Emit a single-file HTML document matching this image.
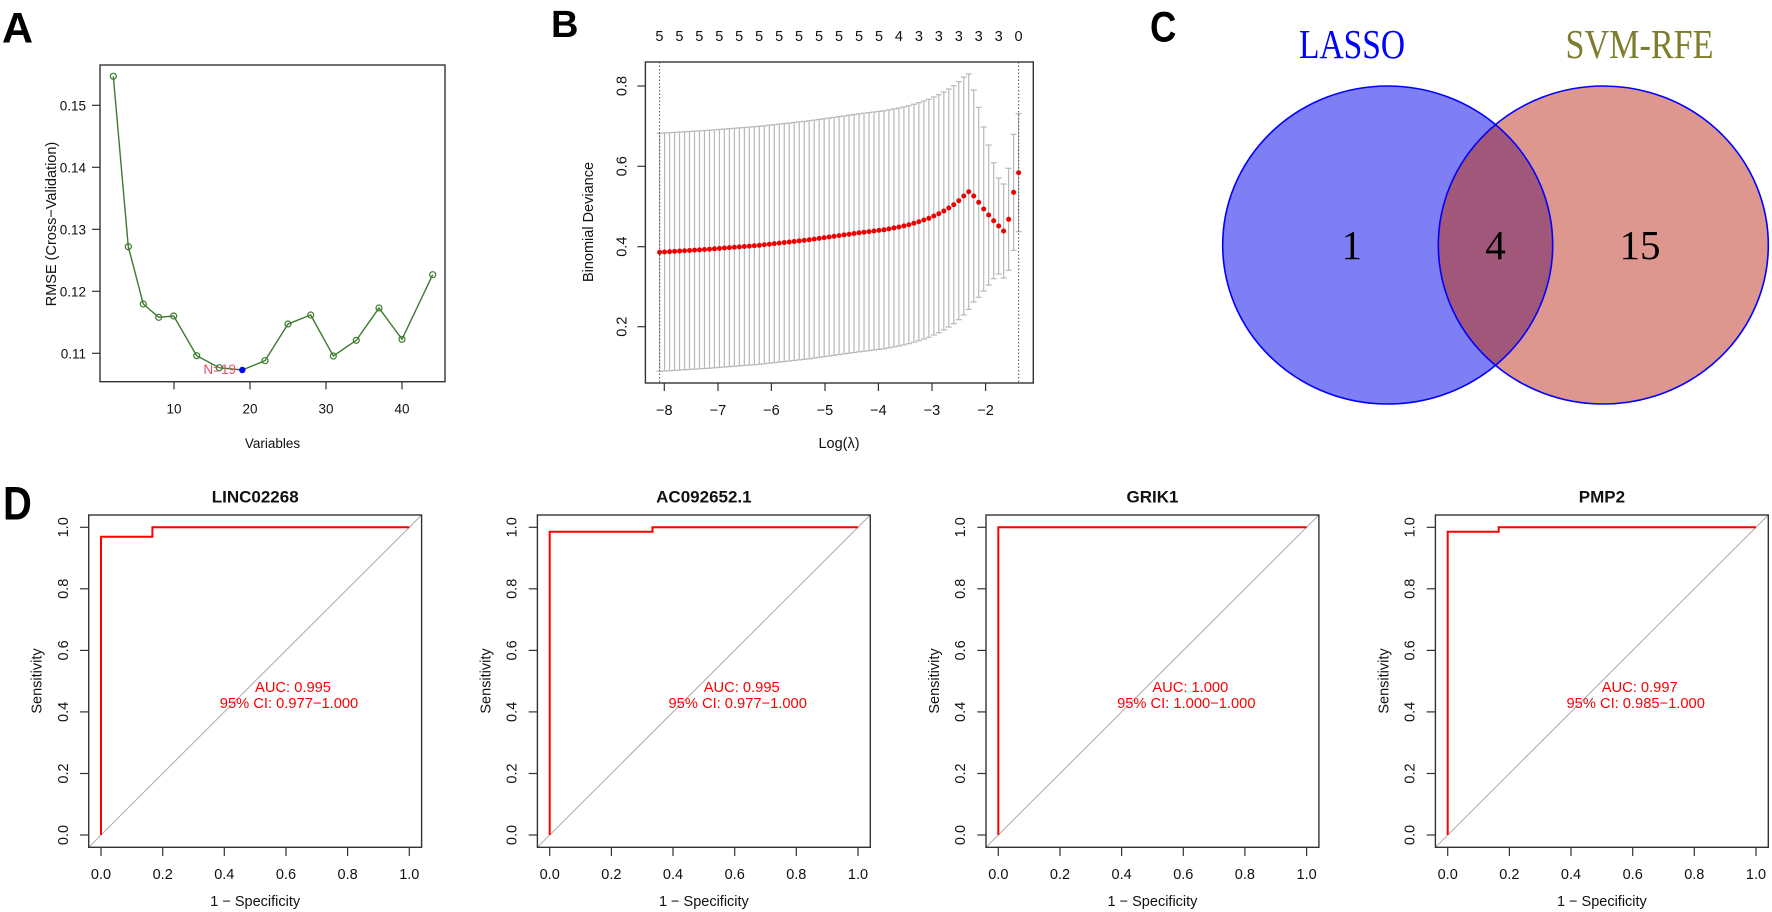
<!DOCTYPE html>
<html><head><meta charset="utf-8">
<style>
html,body{margin:0;padding:0;background:#fff;}
svg{display:block;}
text{font-family:"Liberation Sans",Arial,sans-serif;fill:#111;}
.t{font-size:14.5px;}
.ta{font-size:13.5px;}
.lab{font-size:14.5px;}
.ttl{font-size:17px;font-weight:bold;}
.let{font-weight:bold;font-size:43px;fill:#000;}
.auc{font-size:14.7px;fill:#f00;}
.ven text{font-family:"Liberation Serif","Noto Serif CJK SC",serif;}
</style></head>
<body>
<svg id="s" width="1772" height="912" viewBox="0 0 1772 912" xmlns="http://www.w3.org/2000/svg">
<rect width="1772" height="912" fill="#fff"/>

<!-- Panel letters -->
<text class="let" x="2" y="42.5">A</text>
<text class="let" x="551" y="36.8" style="font-size:38px">B</text>
<text class="let" x="1150" y="41.5" transform="translate(1150,0) scale(0.85,1) translate(-1150,0)">C</text>
<text class="let" x="3" y="519.5" style="font-size:47px" transform="translate(3,0) scale(0.85,1) translate(-3,0)">D</text>

<!-- ================= PANEL A ================= -->
<g>
<rect x="100" y="65" width="345" height="316.7" fill="none" stroke="#333" stroke-width="1.4"/>
<g stroke="#333" stroke-width="1.2">
<line x1="100" y1="105.3" x2="92" y2="105.3"/>
<line x1="100" y1="167.3" x2="92" y2="167.3"/>
<line x1="100" y1="229.3" x2="92" y2="229.3"/>
<line x1="100" y1="291.3" x2="92" y2="291.3"/>
<line x1="100" y1="353.3" x2="92" y2="353.3"/>
<line x1="174" y1="381.7" x2="174" y2="389.5"/>
<line x1="250" y1="381.7" x2="250" y2="389.5"/>
<line x1="326" y1="381.7" x2="326" y2="389.5"/>
<line x1="402" y1="381.7" x2="402" y2="389.5"/>
</g>
<g class="ta" text-anchor="end">
<text x="86" y="110.3">0.15</text>
<text x="86" y="172.3">0.14</text>
<text x="86" y="234.3">0.13</text>
<text x="86" y="296.3">0.12</text>
<text x="86" y="358.3">0.11</text>
</g>
<g class="ta" text-anchor="middle">
<text x="174" y="413.5">10</text>
<text x="250" y="413.5">20</text>
<text x="326" y="413.5">30</text>
<text x="402" y="413.5">40</text>
<text x="272.5" y="448">Variables</text>
</g>
<text class="lab" text-anchor="middle" dy=".35em" transform="translate(51,224) rotate(-90)">RMSE (Cross−Validation)</text>
<polyline fill="none" stroke="#3d7a2e" stroke-width="1.4" points="113.3,76.3 128.3,246.7 143.3,304 158.7,317.3 173.7,316 196.7,355.7 219.3,367.7 242.3,370 265,360.7 288,324 310.7,315 333.3,356 356.3,340.3 379,308 402,339.3 432.7,274.7"/>
<g fill="none" stroke="#3d7a2e" stroke-width="1.2">
<circle cx="113.3" cy="76.3" r="3"/><circle cx="128.3" cy="246.7" r="3"/><circle cx="143.3" cy="304" r="3"/>
<circle cx="158.7" cy="317.3" r="3"/><circle cx="173.7" cy="316" r="3"/><circle cx="196.7" cy="355.7" r="3"/>
<circle cx="219.3" cy="367.7" r="3"/><circle cx="265" cy="360.7" r="3"/>
<circle cx="288" cy="324" r="3"/><circle cx="310.7" cy="315" r="3"/><circle cx="333.3" cy="356" r="3"/>
<circle cx="356.3" cy="340.3" r="3"/><circle cx="379" cy="308" r="3"/><circle cx="402" cy="339.3" r="3"/>
<circle cx="432.7" cy="274.7" r="3"/>
</g>
<text class="ta" x="236" y="374" text-anchor="end" style="fill:#DF536B">N=19</text>
<circle cx="242.3" cy="370" r="3.2" fill="#0000ff"/>
</g>

<!-- ================= PANEL B ================= -->
<g>
<g class="t" text-anchor="middle">
<text x="659.4" y="41">5</text><text x="679.4" y="41">5</text><text x="699.3" y="41">5</text>
<text x="719.3" y="41">5</text><text x="739.2" y="41">5</text><text x="759.2" y="41">5</text>
<text x="779.2" y="41">5</text><text x="799.1" y="41">5</text><text x="819.1" y="41">5</text>
<text x="839.0" y="41">5</text><text x="859.0" y="41">5</text><text x="879.0" y="41">5</text>
<text x="898.9" y="41">4</text><text x="918.9" y="41">3</text><text x="938.8" y="41">3</text>
<text x="958.8" y="41">3</text><text x="978.7" y="41">3</text><text x="998.7" y="41">3</text>
<text x="1018.6" y="41">0</text>
</g>
<g id="bdata"></g>
<g stroke="#555" stroke-width="1" stroke-dasharray="1.5 2">
<line x1="659.6" y1="62" x2="659.6" y2="383"/>
<line x1="1018.6" y1="62" x2="1018.6" y2="383"/>
</g>
<rect x="645.4" y="62" width="387.9" height="321" fill="none" stroke="#333" stroke-width="1.4"/>
<g stroke="#333" stroke-width="1.2">
<line x1="645.4" y1="86" x2="637.4" y2="86"/>
<line x1="645.4" y1="166.3" x2="637.4" y2="166.3"/>
<line x1="645.4" y1="246.7" x2="637.4" y2="246.7"/>
<line x1="645.4" y1="326.7" x2="637.4" y2="326.7"/>
<line x1="664.3" y1="383" x2="664.3" y2="391"/>
<line x1="718" y1="383" x2="718" y2="391"/>
<line x1="771.4" y1="383" x2="771.4" y2="391"/>
<line x1="825" y1="383" x2="825" y2="391"/>
<line x1="878.4" y1="383" x2="878.4" y2="391"/>
<line x1="932" y1="383" x2="932" y2="391"/>
<line x1="985.6" y1="383" x2="985.6" y2="391"/>
</g>
<g class="t" text-anchor="middle">
<text dy=".35em" transform="translate(621.5,86) rotate(-90)">0.8</text>
<text dy=".35em" transform="translate(621.5,166.3) rotate(-90)">0.6</text>
<text dy=".35em" transform="translate(621.5,246.7) rotate(-90)">0.4</text>
<text dy=".35em" transform="translate(621.5,326.7) rotate(-90)">0.2</text>
<text x="664.3" y="415">−8</text>
<text x="718" y="415">−7</text>
<text x="771.4" y="415">−6</text>
<text x="825" y="415">−5</text>
<text x="878.4" y="415">−4</text>
<text x="932" y="415">−3</text>
<text x="985.6" y="415">−2</text>
<text x="839" y="448">Log(λ)</text>
<text dy=".35em" transform="translate(588,222) rotate(-90)">Binomial Deviance</text>
</g>
</g>

<!-- ================= PANEL C ================= -->
<defs>
<clipPath id="clipL"><ellipse cx="1387.7" cy="245" rx="165" ry="159"/></clipPath>
</defs>
<g class="ven">
<text x="1352" y="58" text-anchor="middle" font-size="41" textLength="106" lengthAdjust="spacingAndGlyphs" style="fill:#0000ff">LASSO</text>
<text x="1639.5" y="58" text-anchor="middle" font-size="41" textLength="148" lengthAdjust="spacingAndGlyphs" style="fill:#7d7d2d">SVM-RFE</text>
<ellipse cx="1387.7" cy="245" rx="165" ry="159" fill="#7f7ff5"/>
<ellipse cx="1603.3" cy="245" rx="165" ry="159" fill="#de978f"/>
<ellipse cx="1603.3" cy="245" rx="165" ry="159" fill="#a15779" clip-path="url(#clipL)"/>
<ellipse cx="1387.7" cy="245" rx="165" ry="159" fill="none" stroke="#0000ff" stroke-width="1.6"/>
<ellipse cx="1603.3" cy="245" rx="165" ry="159" fill="none" stroke="#0000ff" stroke-width="1.6"/>
<text x="1351.7" y="259" text-anchor="middle" font-size="41" style="fill:#000">1</text>
<text x="1495.5" y="259" text-anchor="middle" font-size="41" style="fill:#000">4</text>
<text x="1640" y="259" text-anchor="middle" font-size="41" style="fill:#000">15</text>
</g>

<!-- ================= PANEL D ================= -->
<!-- Plot 1 -->
<g transform="translate(101,0)">
<line x1="-12.3" y1="847.3" x2="320.6" y2="515" stroke="#aaa" stroke-width="1"/>
<path d="M0,835 V536.7 H51.4 V527.3 H308.3" fill="none" stroke="#f00" stroke-width="2"/>
<rect x="-12.3" y="515" width="332.9" height="332.3" fill="none" stroke="#333" stroke-width="1.4"/>
<g stroke="#333" stroke-width="1.2">
<line x1="0" y1="847.3" x2="0" y2="856"/><line x1="61.7" y1="847.3" x2="61.7" y2="856"/>
<line x1="123.3" y1="847.3" x2="123.3" y2="856"/><line x1="185" y1="847.3" x2="185" y2="856"/>
<line x1="246.6" y1="847.3" x2="246.6" y2="856"/><line x1="308.3" y1="847.3" x2="308.3" y2="856"/>
<line x1="-12.3" y1="835" x2="-21" y2="835"/><line x1="-12.3" y1="773.5" x2="-21" y2="773.5"/>
<line x1="-12.3" y1="711.9" x2="-21" y2="711.9"/><line x1="-12.3" y1="650.4" x2="-21" y2="650.4"/>
<line x1="-12.3" y1="588.8" x2="-21" y2="588.8"/><line x1="-12.3" y1="527.3" x2="-21" y2="527.3"/>
</g>
<g class="t" text-anchor="middle">
<text x="0" y="879">0.0</text><text x="61.7" y="879">0.2</text><text x="123.3" y="879">0.4</text>
<text x="185" y="879">0.6</text><text x="246.6" y="879">0.8</text><text x="308.3" y="879">1.0</text>
<text dy=".35em" transform="translate(-38.3,835) rotate(-90)">0.0</text>
<text dy=".35em" transform="translate(-38.3,773.5) rotate(-90)">0.2</text>
<text dy=".35em" transform="translate(-38.3,711.9) rotate(-90)">0.4</text>
<text dy=".35em" transform="translate(-38.3,650.4) rotate(-90)">0.6</text>
<text dy=".35em" transform="translate(-38.3,588.8) rotate(-90)">0.8</text>
<text dy=".35em" transform="translate(-38.3,527.3) rotate(-90)">1.0</text>
<text x="154.2" y="906">1 − Specificity</text>
<text dy=".35em" transform="translate(-64.5,681) rotate(-90)">Sensitivity</text>
</g>
<text class="ttl" x="154.2" y="502.7" text-anchor="middle">LINC02268</text>
<text class="auc" x="192" y="692" text-anchor="middle">AUC: 0.995</text>
<text class="auc" x="188" y="708" text-anchor="middle">95% CI: 0.977−1.000</text>
</g>

<!-- Plot 2 -->
<g transform="translate(549.7,0)">
<line x1="-12.3" y1="847.3" x2="320.6" y2="515" stroke="#aaa" stroke-width="1"/>
<path d="M0,835 V531.7 H102.8 V527.3 H308.3" fill="none" stroke="#f00" stroke-width="2"/>
<rect x="-12.3" y="515" width="332.9" height="332.3" fill="none" stroke="#333" stroke-width="1.4"/>
<g stroke="#333" stroke-width="1.2">
<line x1="0" y1="847.3" x2="0" y2="856"/><line x1="61.7" y1="847.3" x2="61.7" y2="856"/>
<line x1="123.3" y1="847.3" x2="123.3" y2="856"/><line x1="185" y1="847.3" x2="185" y2="856"/>
<line x1="246.6" y1="847.3" x2="246.6" y2="856"/><line x1="308.3" y1="847.3" x2="308.3" y2="856"/>
<line x1="-12.3" y1="835" x2="-21" y2="835"/><line x1="-12.3" y1="773.5" x2="-21" y2="773.5"/>
<line x1="-12.3" y1="711.9" x2="-21" y2="711.9"/><line x1="-12.3" y1="650.4" x2="-21" y2="650.4"/>
<line x1="-12.3" y1="588.8" x2="-21" y2="588.8"/><line x1="-12.3" y1="527.3" x2="-21" y2="527.3"/>
</g>
<g class="t" text-anchor="middle">
<text x="0" y="879">0.0</text><text x="61.7" y="879">0.2</text><text x="123.3" y="879">0.4</text>
<text x="185" y="879">0.6</text><text x="246.6" y="879">0.8</text><text x="308.3" y="879">1.0</text>
<text dy=".35em" transform="translate(-38.3,835) rotate(-90)">0.0</text>
<text dy=".35em" transform="translate(-38.3,773.5) rotate(-90)">0.2</text>
<text dy=".35em" transform="translate(-38.3,711.9) rotate(-90)">0.4</text>
<text dy=".35em" transform="translate(-38.3,650.4) rotate(-90)">0.6</text>
<text dy=".35em" transform="translate(-38.3,588.8) rotate(-90)">0.8</text>
<text dy=".35em" transform="translate(-38.3,527.3) rotate(-90)">1.0</text>
<text x="154.2" y="906">1 − Specificity</text>
<text dy=".35em" transform="translate(-64.5,681) rotate(-90)">Sensitivity</text>
</g>
<text class="ttl" x="154.2" y="502.7" text-anchor="middle">AC092652.1</text>
<text class="auc" x="192" y="692" text-anchor="middle">AUC: 0.995</text>
<text class="auc" x="188" y="708" text-anchor="middle">95% CI: 0.977−1.000</text>
</g>

<!-- Plot 3 -->
<g transform="translate(998.3,0)">
<line x1="-12.3" y1="847.3" x2="320.6" y2="515" stroke="#aaa" stroke-width="1"/>
<path d="M0,835 V527.3 H308.3" fill="none" stroke="#f00" stroke-width="2"/>
<rect x="-12.3" y="515" width="332.9" height="332.3" fill="none" stroke="#333" stroke-width="1.4"/>
<g stroke="#333" stroke-width="1.2">
<line x1="0" y1="847.3" x2="0" y2="856"/><line x1="61.7" y1="847.3" x2="61.7" y2="856"/>
<line x1="123.3" y1="847.3" x2="123.3" y2="856"/><line x1="185" y1="847.3" x2="185" y2="856"/>
<line x1="246.6" y1="847.3" x2="246.6" y2="856"/><line x1="308.3" y1="847.3" x2="308.3" y2="856"/>
<line x1="-12.3" y1="835" x2="-21" y2="835"/><line x1="-12.3" y1="773.5" x2="-21" y2="773.5"/>
<line x1="-12.3" y1="711.9" x2="-21" y2="711.9"/><line x1="-12.3" y1="650.4" x2="-21" y2="650.4"/>
<line x1="-12.3" y1="588.8" x2="-21" y2="588.8"/><line x1="-12.3" y1="527.3" x2="-21" y2="527.3"/>
</g>
<g class="t" text-anchor="middle">
<text x="0" y="879">0.0</text><text x="61.7" y="879">0.2</text><text x="123.3" y="879">0.4</text>
<text x="185" y="879">0.6</text><text x="246.6" y="879">0.8</text><text x="308.3" y="879">1.0</text>
<text dy=".35em" transform="translate(-38.3,835) rotate(-90)">0.0</text>
<text dy=".35em" transform="translate(-38.3,773.5) rotate(-90)">0.2</text>
<text dy=".35em" transform="translate(-38.3,711.9) rotate(-90)">0.4</text>
<text dy=".35em" transform="translate(-38.3,650.4) rotate(-90)">0.6</text>
<text dy=".35em" transform="translate(-38.3,588.8) rotate(-90)">0.8</text>
<text dy=".35em" transform="translate(-38.3,527.3) rotate(-90)">1.0</text>
<text x="154.2" y="906">1 − Specificity</text>
<text dy=".35em" transform="translate(-64.5,681) rotate(-90)">Sensitivity</text>
</g>
<text class="ttl" x="154.2" y="502.7" text-anchor="middle">GRIK1</text>
<text class="auc" x="192" y="692" text-anchor="middle">AUC: 1.000</text>
<text class="auc" x="188" y="708" text-anchor="middle">95% CI: 1.000−1.000</text>
</g>

<!-- Plot 4 -->
<g transform="translate(1447.7,0)">
<line x1="-12.3" y1="847.3" x2="320.6" y2="515" stroke="#aaa" stroke-width="1"/>
<path d="M0,835 V531.7 H51 V527.3 H308.3" fill="none" stroke="#f00" stroke-width="2"/>
<rect x="-12.3" y="515" width="332.9" height="332.3" fill="none" stroke="#333" stroke-width="1.4"/>
<g stroke="#333" stroke-width="1.2">
<line x1="0" y1="847.3" x2="0" y2="856"/><line x1="61.7" y1="847.3" x2="61.7" y2="856"/>
<line x1="123.3" y1="847.3" x2="123.3" y2="856"/><line x1="185" y1="847.3" x2="185" y2="856"/>
<line x1="246.6" y1="847.3" x2="246.6" y2="856"/><line x1="308.3" y1="847.3" x2="308.3" y2="856"/>
<line x1="-12.3" y1="835" x2="-21" y2="835"/><line x1="-12.3" y1="773.5" x2="-21" y2="773.5"/>
<line x1="-12.3" y1="711.9" x2="-21" y2="711.9"/><line x1="-12.3" y1="650.4" x2="-21" y2="650.4"/>
<line x1="-12.3" y1="588.8" x2="-21" y2="588.8"/><line x1="-12.3" y1="527.3" x2="-21" y2="527.3"/>
</g>
<g class="t" text-anchor="middle">
<text x="0" y="879">0.0</text><text x="61.7" y="879">0.2</text><text x="123.3" y="879">0.4</text>
<text x="185" y="879">0.6</text><text x="246.6" y="879">0.8</text><text x="308.3" y="879">1.0</text>
<text dy=".35em" transform="translate(-38.3,835) rotate(-90)">0.0</text>
<text dy=".35em" transform="translate(-38.3,773.5) rotate(-90)">0.2</text>
<text dy=".35em" transform="translate(-38.3,711.9) rotate(-90)">0.4</text>
<text dy=".35em" transform="translate(-38.3,650.4) rotate(-90)">0.6</text>
<text dy=".35em" transform="translate(-38.3,588.8) rotate(-90)">0.8</text>
<text dy=".35em" transform="translate(-38.3,527.3) rotate(-90)">1.0</text>
<text x="154.2" y="906">1 − Specificity</text>
<text dy=".35em" transform="translate(-64.5,681) rotate(-90)">Sensitivity</text>
</g>
<text class="ttl" x="154.2" y="502.7" text-anchor="middle">PMP2</text>
<text class="auc" x="192" y="692" text-anchor="middle">AUC: 0.997</text>
<text class="auc" x="188" y="708" text-anchor="middle">95% CI: 0.985−1.000</text>
</g>
</svg>

<script>
(function(){
  var NS="http://www.w3.org/2000/svg";
  var g=document.getElementById("bdata");
  var A=[[0,252.3],[10,249.2],[20,245.3],[30,239.8],[40,232.8],[45,229.8],[48,227],[50,224.7],[52,221.7],[54,218.3],[56,213.7],[57,211],[58,208],[59,204.7],[60,200.7],[61,196],[62,191.7],[63,196],[64,202.3],[65,209],[66,215],[67,220.7],[68,226],[69,231],[70,219.3],[71,192.3],[72,172.7]];
  function yv(i){
    for(var k=0;k<A.length-1;k++){
      if(i>=A[k][0]&&i<=A[k+1][0]){
        var t=(i-A[k][0])/(A[k+1][0]-A[k][0]);
        return A[k][1]+t*(A[k+1][1]-A[k][1]);
      }
    }
    return A[A.length-1][1];
  }
  var H={62:117.7,63:106,64:95,65:82,66:70,67:58,68:48,69:47,70:51,71:58,72:59};
  function ln(x1,y1,x2,y2){
    var l=document.createElementNS(NS,"line");
    l.setAttribute("x1",x1);l.setAttribute("y1",y1);l.setAttribute("x2",x2);l.setAttribute("y2",y2);
    l.setAttribute("stroke","#b8b8b8");l.setAttribute("stroke-width","1.2");
    g.appendChild(l);
  }
  var pts=[];
  for(var i=0;i<73;i++){
    var x=659.6+i*4.986, y=yv(i), h=(H[i]!==undefined)?H[i]:119;
    ln(x,y-h,x,y+h);
    ln(x-3,y-h,x+3,y-h);
    ln(x-3,y+h,x+3,y+h);
    pts.push([x,y]);
  }
  for(var j=0;j<pts.length;j++){
    var c=document.createElementNS(NS,"circle");
    c.setAttribute("cx",pts[j][0]);c.setAttribute("cy",pts[j][1]);c.setAttribute("r","2.5");
    c.setAttribute("fill","#ee0000");
    g.appendChild(c);
  }
})();
</script>
</body></html>
